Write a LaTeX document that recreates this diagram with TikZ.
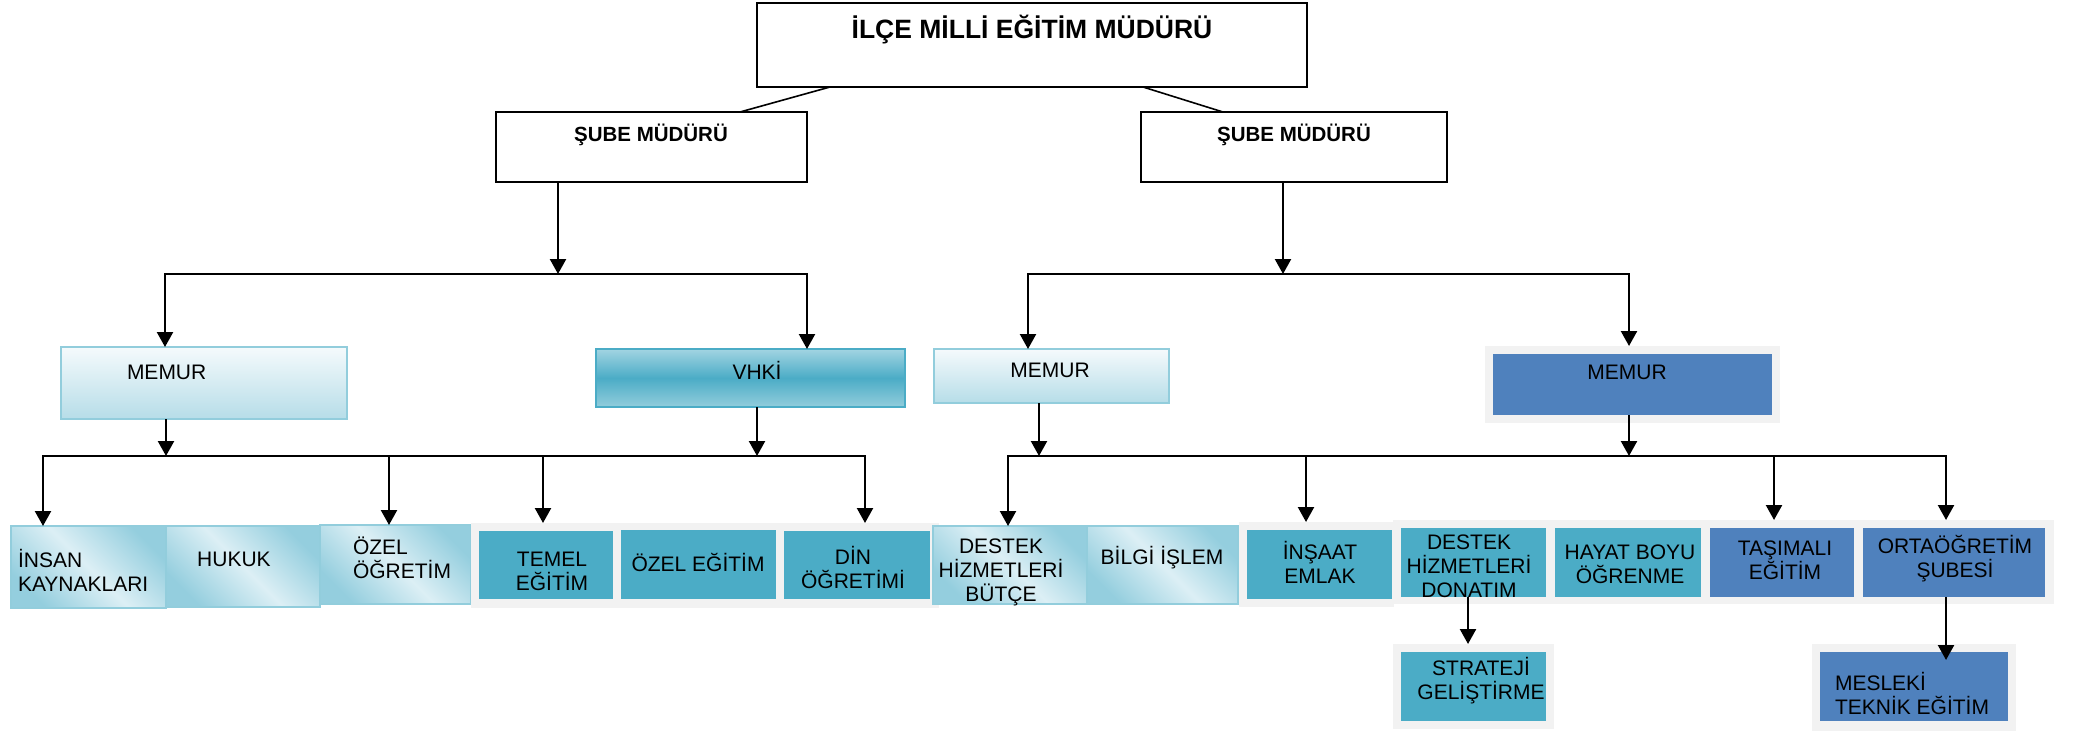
\documentclass[tikz,border=0pt]{standalone}
\usepackage{fontspec}
\setmainfont{Liberation Sans}
\usetikzlibrary{arrows.meta,calc}
\definecolor{teal1}{HTML}{4BACC6}
\definecolor{blue1}{HTML}{4F81BD}
\definecolor{greybg}{HTML}{F2F2F2}
\definecolor{lbord}{HTML}{92CDDC}
\definecolor{ldark}{HTML}{94CEDE}
\definecolor{llight}{HTML}{DCEFF5}
\definecolor{vtop}{HTML}{A2D4E2}
\definecolor{mtop}{HTML}{F5FAFC}
\definecolor{mbot}{HTML}{B6DDE8}
\begin{document}
\begin{tikzpicture}[x=1pt,y=-1pt,
  every node/.style={inner sep=0pt, outer sep=0pt},
  bw/.style={draw=black, line width=2pt, fill=white, anchor=north west},
  gbg/.style={fill=greybg, anchor=north west},
  tealbox/.style={fill=teal1, anchor=north west},
  bluebox/.style={fill=blue1, anchor=north west},
  grad/.style={draw=lbord, line width=2.2pt, anchor=north west, top color=ldark, bottom color=ldark, middle color=llight, shading angle=-45},
  vgrad/.style={draw=lbord, line width=2.2pt, anchor=north west, top color=mtop, bottom color=mbot},
  txt/.style={font=\fontsize{21}{24}\selectfont, align=center},
  ltxt/.style={font=\fontsize{21}{24}\selectfont, align=left, anchor=west},
  btxt/.style={font=\bfseries\fontsize{20.5}{24}\selectfont},
  arr/.style={-{Triangle[length=15pt,width=16pt]}, line width=2.3pt},
  thinline/.style={line width=1.6pt},
]
\useasboundingbox (0,0) rectangle (2085,731);

% ---- top level
\node[bw, minimum width=550, minimum height=84] (top) at (757,3) {};
\node[font=\bfseries\fontsize{26.5}{30}\selectfont] (topT) at (1032,30) {İLÇE MİLLİ EĞİTİM MÜDÜRÜ};

\node[bw, minimum width=311, minimum height=70] (subeL) at (496,112) {};
\node[btxt] (subeLT) at (651,135) {ŞUBE MÜDÜRÜ};
\node[bw, minimum width=306, minimum height=70] (subeR) at (1141,112) {};
\node[btxt] (subeRT) at (1294,135) {ŞUBE MÜDÜRÜ};

\draw[thinline] ($(top.south west)+(73,0)$) -- ($(subeL.north west)+(244,0)$);
\draw[thinline] ($(top.south west)+(386,0)$) -- ($(subeR.north west)+(82,0)$);

% ---- level 2
\node[vgrad, minimum width=286, minimum height=72] (memL) at (61,347) {};
\node[ltxt] (memLT) at (127,372) {MEMUR};
\node[draw=teal1, line width=2.2pt, anchor=north west, top color=vtop, bottom color=lbord, middle color=teal1, minimum width=309, minimum height=58] (vhki) at (596,349) {};
\node[txt] (vhkiT) at (757,370) {VHKİ};
\node[vgrad, minimum width=235, minimum height=54] (memM) at (934,349) {};
\node[txt] (memMT) at (1050,370) {MEMUR};
\node[gbg, minimum width=295, minimum height=77] (memRg) at (1485,346) {};
\node[bluebox, minimum width=279, minimum height=61] (memR) at (1493,354) {};
\node[txt] (memRT) at (1627,372) {MEMUR};

% ---- bus 1
\coordinate (jL1) at (558,274);
\coordinate (eL1a) at (165,274);
\coordinate (eL1b) at (807,274);
\draw[arr] (subeL.south -| jL1) -- (jL1);
\draw[arr] (jL1) -| (eL1a |- memL.north);
\draw[arr] (jL1) -| (eL1b |- vhki.north);

\coordinate (jR1) at (1283,274);
\coordinate (eR1a) at (1028,274);
\coordinate (eR1b) at (1629,274);
\draw[arr] (subeR.south -| jR1) -- (jR1);
\draw[arr] (jR1) -| (eR1a |- memM.north);
\draw[arr] (jR1) -| (eR1b |- memRg.north);

% ---- level 3 left
\node[grad, minimum width=155, minimum height=82] (insan) at (11,526) {};
\node[ltxt] (insanT) at (18,570) {İNSAN\\KAYNAKLARI};
\node[grad, minimum width=154, minimum height=81] (hukuk) at (166,526) {};
\node[txt] (hukukT) at (234,559) {HUKUK};
\node[grad, minimum width=151, minimum height=79] (ozo) at (320,525) {};
\node[ltxt] (ozoT) at (353,558) {ÖZEL\\ÖĞRETİM};
\node[gbg, minimum width=468, minimum height=85] (greyL) at (471,523) {};
\node[tealbox, minimum width=134, minimum height=68] (temel) at (479,531) {};
\node[txt] (temelT) at (552,571) {TEMEL\\EĞİTİM};
\node[tealbox, minimum width=155, minimum height=69] (ozel) at (621,530) {};
\node[txt] (ozelT) at (698,562) {ÖZEL EĞİTİM};
\node[tealbox, minimum width=146, minimum height=68] (din) at (784,531) {};
\node[txt] (dinT) at (853,567) {DİN\\ÖĞRETİMİ};

% ---- level 3 right
\node[grad, minimum width=154, minimum height=78] (dbt) at (933,526) {};
\node[txt] (dbtT) at (1001,572) {DESTEK\\HİZMETLERİ\\BÜTÇE};
\node[grad, minimum width=151, minimum height=78] (bilgi) at (1087,526) {};
\node[txt] (bilgiT) at (1162,558) {BİLGİ İŞLEM};
\node[gbg, minimum width=155, minimum height=85] (greyI) at (1239,522) {};
\node[tealbox, minimum width=145, minimum height=69] (insaat) at (1247,530) {};
\node[txt] (insaatT) at (1320,562) {İNŞAAT\\EMLAK};
\node[gbg, minimum width=661, minimum height=84] (greyR) at (1393,520) {};
\node[tealbox, minimum width=145, minimum height=69] (don) at (1401,528) {};
\node[txt] (donT) at (1469,566) {DESTEK\\HİZMETLERİ\\DONATIM};
\node[tealbox, minimum width=146, minimum height=69] (hayat) at (1555,528) {};
\node[txt] (hayatT) at (1630,564) {HAYAT BOYU\\ÖĞRENME};
\node[bluebox, minimum width=144, minimum height=69] (tas) at (1710,528) {};
\node[txt] (tasT) at (1785,560) {TAŞIMALI\\EĞİTİM};
\node[bluebox, minimum width=182, minimum height=69] (ort) at (1863,528) {};
\node[txt] (ortT) at (1955,559) {ORTAÖĞRETİM\\ŞUBESİ};

% ---- level 4
\node[gbg, minimum width=161, minimum height=85] (strg) at (1393,644) {};
\node[tealbox, minimum width=145, minimum height=69] (str) at (1401,652) {};
\node[txt] (strT) at (1481,681) {STRATEJİ\\GELİŞTİRME};
\node[gbg, minimum width=204, minimum height=87] (mesg) at (1812,644) {};
\node[bluebox, minimum width=188, minimum height=69] (mes) at (1820,652) {};
\node[ltxt] (mesT) at (1835,693) {MESLEKİ\\TEKNİK EĞİTİM};

% ---- bus 2 left
\coordinate (jL2) at (166,456);
\coordinate (jV2) at (757,456);
\coordinate (pIns) at (43,456);
\coordinate (pOzo) at (389,456);
\coordinate (pTem) at (543,456);
\coordinate (pDin) at (865,456);
\draw[arr] (memL.south -| jL2) -- (jL2);
\draw[arr] (vhki.south -| jV2) -- (jV2);
\draw[arr] (jL2) -| (pIns |- insan.north);
\draw[arr] (jL2) -| (pDin |- greyL.north);
\draw[arr] (pOzo) -- (pOzo |- ozo.north);
\draw[arr] (pTem) -- (pTem |- greyL.north);

% ---- bus 2 right
\coordinate (jM2) at (1039,456);
\coordinate (jR2) at (1629,456);
\coordinate (pDbt) at (1008,456);
\coordinate (pIns2) at (1306,456);
\coordinate (pTas) at (1774,456);
\coordinate (pOrt) at (1946,456);
\draw[arr] (memM.south -| jM2) -- (jM2);
\draw[arr] (memR.south -| jR2) -- (jR2);
\draw[arr] (jM2) -| (pDbt |- dbt.north);
\draw[arr] (jM2) -| (pOrt |- greyR.north);
\draw[arr] (pIns2) -- (pIns2 |- greyI.north);
\draw[arr] (pTas) -- (pTas |- greyR.north);

% ---- level 3 -> 4
\coordinate (pStr) at (1468,600);
\draw[arr] (don.south -| pStr) -- (pStr |- strg.north);
\coordinate (pMes) at (1946,600);
\draw[arr] (ort.south -| pMes) -- ($(pMes |- mes.north)+(0,8)$);
\end{tikzpicture}
\end{document}
